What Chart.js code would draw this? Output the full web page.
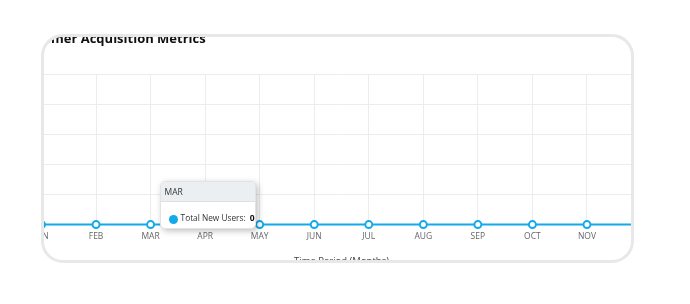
<!DOCTYPE html>
<html>
<head>
<meta charset="utf-8">
<script src="https://cdn.jsdelivr.net/npm/chart.js@4.4.1/dist/chart.umd.min.js"></script>
<style>
    html, body { margin: 0; padding: 0; background: #fff; }
    body { width: 690px; height: 304px; position: relative; overflow: hidden; font-family: 'Open Sans', sans-serif; }
    .card {
        position: absolute; left: 41px; top: 34px; width: 593px; height: 229px;
        box-sizing: border-box; border: 3px solid #e8e8e8; border-radius: 22px;
        overflow: hidden; background: #fff;
    }
    .stage { position: absolute; left: -44px; top: -37px; width: 690px; height: 304px; }
    .tip {
        position: absolute; display: none; background: #fff; border: 1px solid #e3e3e3;
        border-radius: 5px; box-shadow: 2px 2px 6px rgba(0,0,0,0.25); overflow: hidden;
        font-size: 8.3px; color: #333; white-space: nowrap; box-sizing: border-box;
    }
    .tip .head { background: #eceff1; border-bottom: 1px solid #dde0e2; padding: 4px 4px; height: 11px; line-height: 11px; font-size: 8.5px; }
    .tip .body { padding: 6px 0 0 8px; display: flex; align-items: center; height: 20px; }
    .tip .dot { flex: 0 0 9px; width: 9px; height: 9px; border-radius: 50%; margin-right: 3px; margin-top: 3px; }
    .tip b { margin-left: 4px; color: #111; font-size: 8.5px; }
</style>
</head>
<body>
<div class="card">
    <div class="stage">
        <canvas id="acq-chart" width="690" height="304"></canvas>
        <div class="tip" id="tip"></div>
    </div>
</div>
<script>
// 데이터
const months = ['JAN', 'FEB', 'MAR', 'APR', 'MAY', 'JUN', 'JUL', 'AUG', 'SEP', 'OCT', 'NOV', 'DEC'];
const newUsers = [0, 0, 0, 0, 0, 0, 0, 0, 0, 0, 0, 0];
const yTicks = [0, 1, 2, 3, 4, 5];
const hoverMonth = 'MAR';

const lineColor = '#13a9ec';

// 툴팁 (HTML)
function drawTip(context) {
    const tip = document.getElementById('tip');
    const model = context.tooltip;
    if (model.opacity === 0) { tip.style.display = 'none'; return; }
    const item = model.dataPoints[0];
    tip.innerHTML =
        '<div class="head">' + item.label + '</div>' +
        '<div class="body"><span class="dot" style="background:' + lineColor + '"></span>' +
        'Total New Users:<b>' + item.formattedValue + '</b></div>';
    tip.style.display = 'block';
    tip.style.width = '96px';
    tip.style.left = (model.caretX + 9) + 'px';
    tip.style.top = (model.caretY + 4 - tip.offsetHeight) + 'px';
}

const ctx = document.getElementById('acq-chart').getContext('2d');
const acqChart = new Chart(ctx, {
    type: 'line',
    data: {
        labels: months,
        datasets: [{
            label: 'Total New Users',
            data: newUsers,
            borderColor: lineColor,
            backgroundColor: '#fff',
            borderWidth: 2,
            pointRadius: 3.5,
            pointBorderWidth: 2,
            pointBackgroundColor: '#fff',
            pointBorderColor: lineColor,
            pointHoverRadius: 3.5,
            pointHoverBorderWidth: 2,
            tension: 0,
            clip: false
        }]
    },
    options: {
        responsive: false,
        animation: false,
        layout: { padding: { left: 14, right: 48.5, top: 0, bottom: 30 } },
        plugins: {
            legend: { display: false },
            title: {
                display: true,
                text: 'Customer Acquisition Metrics',
                align: 'start',
                color: '#111',
                font: { family: 'Open Sans', size: 13, weight: 'bold' },
                padding: { top: 31, bottom: 27.4 }
            },
            tooltip: { enabled: false, external: drawTip, mode: 'index', intersect: false }
        },
        scales: {
            x: {
                grid: { color: '#ececec', drawTicks: false },
                border: { display: false },
                ticks: { color: '#666', font: { family: 'Open Sans', size: 8.5 }, padding: 7, maxRotation: 0, autoSkip: false },
                title: {
                    display: true, text: 'Time Period (Months)', color: '#444',
                    font: { family: 'Open Sans', size: 9.5 }, padding: { top: 7, bottom: 6.8 }
                }
            },
            y: {
                min: yTicks[0],
                max: yTicks[yTicks.length - 1],
                afterFit: (scale) => { scale.width = 27.5; },
                afterBuildTicks: (scale) => { scale.ticks = yTicks.map(v => ({ value: v })); },
                grid: { color: '#ececec', drawTicks: false },
                border: { display: false },
                ticks: { display: false }
            }
        }
    }
});

// MAR 툴팁 표시
const idx = months.indexOf(hoverMonth);
const pt = acqChart.getDatasetMeta(0).data[idx];
acqChart.tooltip.setActiveElements([{ datasetIndex: 0, index: idx }], { x: pt.x, y: pt.y });
acqChart.update();
</script>
</body>
</html>
